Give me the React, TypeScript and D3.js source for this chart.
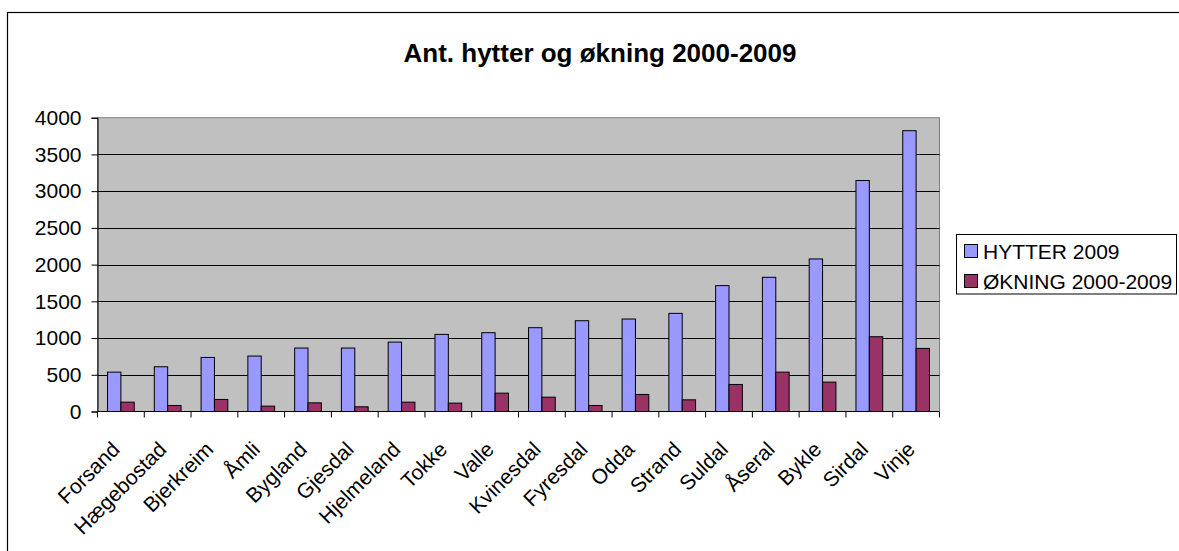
import React, {useEffect, useRef} from 'react';
import * as d3 from 'd3';

const categories = [
    'Forsand', 'Hægebostad', 'Bjerkreim', 'Åmli', 'Bygland', 'Gjesdal', 'Hjelmeland', 'Tokke', 'Valle',
    'Kvinesdal', 'Fyresdal', 'Odda', 'Strand', 'Suldal', 'Åseral', 'Bykle', 'Sirdal', 'Vinje',
];
const hytter2009 = [536, 609, 736, 755, 864, 864, 945, 1050, 1073, 1141, 1236, 1259, 1336, 1714, 1827, 2077, 3145, 3823];
const okning = [127, 82, 164, 73, 118, 64, 127, 114, 250, 195, 82, 232, 159, 368, 536, 400, 1018, 859];
const seriesNames = ['HYTTER 2009', 'ØKNING 2000-2009'];
const seriesColors = ['#9999FF', '#993366'];
const yTicks = [0, 500, 1000, 1500, 2000, 2500, 3000, 3500, 4000];
const title = 'Ant. hytter og økning 2000-2009';

const WIDTH = 1179;
const HEIGHT = 551;
const FONT = 'Arial, "Liberation Sans", sans-serif';

const App: React.FC = () => {
    const svgRef = useRef<SVGSVGElement | null>(null);

    useEffect(() => {
        if (svgRef.current) {
            drawChart();
        }
    }, []);

    const drawChart = () => {
        const svg = d3.select(svgRef.current);
        svg.selectAll('*').remove();

        const plot = {left: 97.5, right: 939.5, top: 117.7, bottom: 411.5};

        // chart area border (runs off the picture at right/bottom)
        svg.append('rect')
            .attr('x', 7.5).attr('y', 12.5)
            .attr('width', 1300).attr('height', 700)
            .attr('fill', 'white')
            .attr('stroke', 'black')
            .attr('stroke-width', 1.2);

        svg.append('text')
            .attr('x', 600).attr('y', 62)
            .attr('text-anchor', 'middle')
            .style('font-family', FONT)
            .style('font-size', '26px')
            .style('font-weight', 'bold')
            .text(title);

        const x = d3.scaleBand<string>()
            .domain(categories)
            .range([plot.left, plot.right])
            .padding(0);
        const xInner = d3.scaleBand<number>()
            .domain([0, 1])
            .range([0, x.bandwidth()])
            .paddingInner(0)
            .paddingOuter(0.75);
        const y = d3.scaleLinear()
            .domain([0, 4000])
            .range([plot.bottom, plot.top]);

        // plot area
        svg.append('rect')
            .attr('x', plot.left).attr('y', plot.top)
            .attr('width', plot.right - plot.left)
            .attr('height', plot.bottom - plot.top)
            .attr('fill', '#C0C0C0')
            .attr('stroke', '#808080')
            .attr('stroke-width', 1);

        // gridlines
        svg.append('g')
            .selectAll('line')
            .data(yTicks.filter((t) => t > 0 && t < 4000))
            .enter()
            .append('line')
            .attr('x1', plot.left).attr('x2', plot.right)
            .attr('y1', (d) => Math.round(y(d)) + 0.5)
            .attr('y2', (d) => Math.round(y(d)) + 0.5)
            .attr('stroke', 'black')
            .attr('stroke-width', 1);

        // bars
        const series = [hytter2009, okning];
        series.forEach((values, si) => {
            svg.append('g')
                .selectAll('rect')
                .data(values)
                .enter()
                .append('rect')
                .attr('x', (_d, i) => (x(categories[i]) as number) + (xInner(si) as number))
                .attr('y', (d) => y(d))
                .attr('width', xInner.bandwidth())
                .attr('height', (d) => plot.bottom - y(d))
                .attr('fill', seriesColors[si])
                .attr('stroke', 'black')
                .attr('stroke-width', 1);
        });

        // y axis
        const yAxis = d3.axisLeft(y)
            .tickValues(yTicks)
            .tickSize(6)
            .tickPadding(10)
            .tickFormat((d) => String(d));
        const yG = svg.append('g')
            .attr('transform', `translate(${plot.left},0)`)
            .call(yAxis);
        yG.select('.domain').attr('stroke', 'black');
        yG.selectAll('line').attr('stroke', 'black');
        yG.selectAll('text')
            .style('font-family', FONT)
            .style('font-size', '21px')
            .attr('fill', 'black');

        // x axis with ticks at category boundaries
        const xG = svg.append('g')
            .attr('transform', `translate(0,${plot.bottom})`);
        xG.append('line')
            .attr('x1', plot.left).attr('x2', plot.right)
            .attr('stroke', 'black');
        xG.selectAll('line.tick')
            .data(d3.range(categories.length + 1))
            .enter()
            .append('line')
            .attr('class', 'tick')
            .attr('x1', (i) => plot.left + i * x.step())
            .attr('x2', (i) => plot.left + i * x.step())
            .attr('y1', 0).attr('y2', 6)
            .attr('stroke', 'black');
        xG.selectAll('text')
            .data(categories)
            .enter()
            .append('text')
            .attr('transform', (d) => {
                const cx = (x(d) as number) + x.bandwidth() / 2 - 5;
                return `translate(${cx},34) rotate(-45)`;
            })
            .attr('text-anchor', 'end')
            .attr('dy', '0.35em')
            .style('font-family', FONT)
            .style('font-size', '21px')
            .text((d) => d);

        // legend
        const legend = svg.append('g');
        legend.append('rect')
            .attr('x', 956.5).attr('y', 234.5)
            .attr('width', 220).attr('height', 59.5)
            .attr('fill', 'white')
            .attr('stroke', 'black');
        seriesNames.forEach((name, i) => {
            const rowY = 244 + i * 30;
            legend.append('rect')
                .attr('x', 964.5).attr('y', rowY + 0.5)
                .attr('width', 13).attr('height', 13)
                .attr('fill', seriesColors[i])
                .attr('stroke', 'black');
            legend.append('text')
                .attr('x', 983).attr('y', rowY + 14.5)
                .style('font-family', FONT)
                .style('font-size', '21px')
                .text(name);
        });
    };

    return (
        <svg ref={svgRef} width={WIDTH} height={HEIGHT}
             style={{position: 'absolute', left: 0, top: 0, background: 'white'}}></svg>
    );
};

export default App;
